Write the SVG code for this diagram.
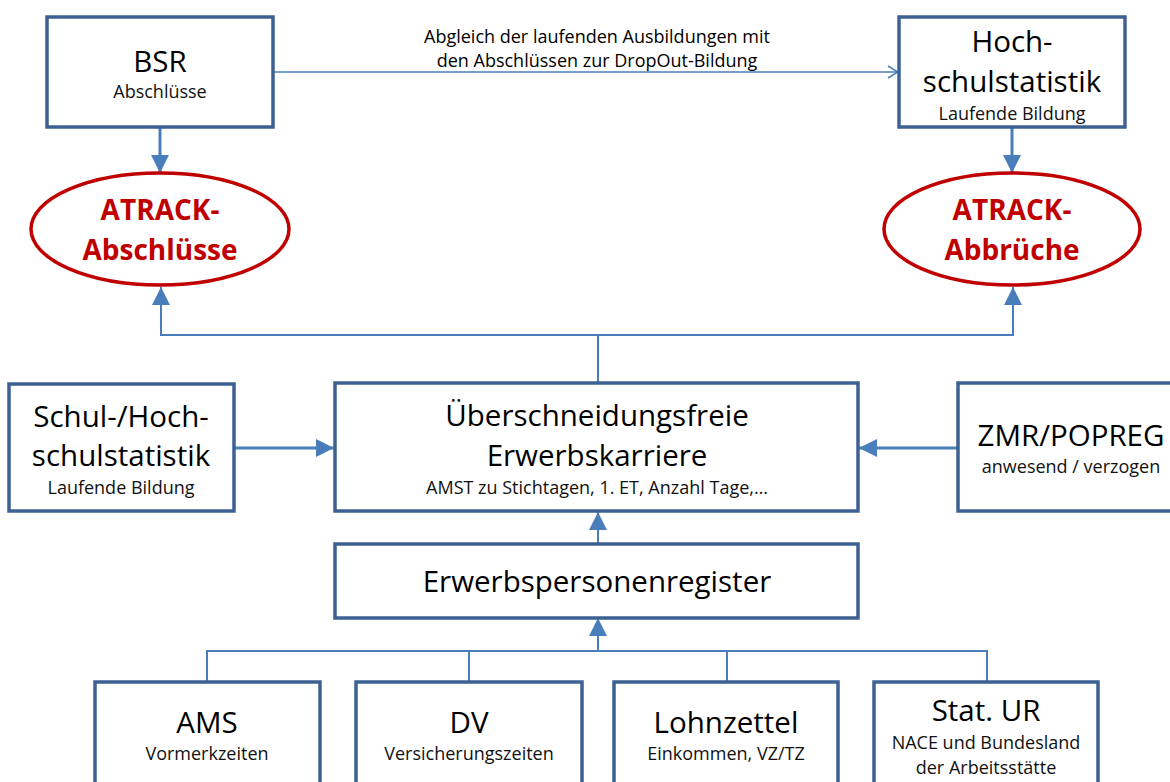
<svg xmlns="http://www.w3.org/2000/svg" width="1170" height="782" viewBox="0 0 1170 782">
<style>
.box{fill:#fff;stroke:#3d6191;stroke-width:3.5}
.ell{fill:#fff;stroke:#c00000;stroke-width:3.5}
.big{font-family:"Open Sans","Liberation Sans",sans-serif;font-size:29.5px;fill:#000;text-anchor:middle}
.sm{font-family:"Open Sans","Liberation Sans",sans-serif;font-size:18px;fill:#111;text-anchor:middle}
.red{font-family:"Open Sans","Liberation Sans",sans-serif;font-size:28px;font-weight:bold;fill:#c00000;text-anchor:middle}
.lbl{font-family:"Open Sans","Liberation Sans",sans-serif;font-size:18px;fill:#000;text-anchor:middle}
.c{fill:none;stroke:#4a7ebb}
.thick{stroke-width:3}
.thin{stroke-width:2}
.hair{stroke-width:1.5}
</style>
<defs>
<marker id="tri" markerUnits="userSpaceOnUse" viewBox="0 0 18 18" markerWidth="18" markerHeight="18" refX="18" refY="9" orient="auto">
<path d="M0,0 L18,9 L0,18 Z" fill="#4a7ebb"/>
</marker>
<marker id="open" markerUnits="userSpaceOnUse" viewBox="0 0 12 14" markerWidth="12" markerHeight="14" refX="11" refY="7" orient="auto">
<path d="M1,1 L11,7 L1,13" fill="none" stroke="#4a7ebb" stroke-width="1.5"/>
</marker>
</defs>
<g id="connectors">
<line class="c hair" x1="273" y1="72" x2="898" y2="72" marker-end="url(#open)"/>
<line class="c thick" x1="160" y1="127" x2="160" y2="173" marker-end="url(#tri)"/>
<line class="c thick" x1="1012" y1="127" x2="1012" y2="173" marker-end="url(#tri)"/>
<path class="c thin" d="M598,383 V335 H161 V287" marker-end="url(#tri)"/>
<path class="c thin" d="M598,335 H1013 V287" marker-end="url(#tri)"/>
<line class="c thick" x1="234" y1="448" x2="334" y2="448" marker-end="url(#tri)"/>
<line class="c thick" x1="958" y1="448" x2="859" y2="448" marker-end="url(#tri)"/>
<line class="c thin" x1="598" y1="544" x2="598" y2="512" marker-end="url(#tri)"/>
<line class="c thin" x1="598" y1="651" x2="598" y2="618" marker-end="url(#tri)"/>
<path class="c thin" d="M207,682 V651 H987 V682 M469,682 V651 M727,682 V651"/>
<text class="lbl" x="597" y="43">Abgleich der laufenden Ausbildungen mit</text>
<text class="lbl" x="597" y="67">den Abschlüssen zur DropOut-Bildung</text>
</g>
<g id="bsr">
<rect class="box" x="47" y="17" width="226" height="110"/>
<text class="big" x="160" y="72">BSR</text>
<text class="sm" x="160" y="98">Abschlüsse</text>
</g>
<g id="hochschul-top">
<rect class="box" x="899" y="17" width="226" height="110"/>
<text class="big" x="1012" y="52">Hoch-</text>
<text class="big" x="1012" y="92">schulstatistik</text>
<text class="sm" x="1012" y="120">Laufende Bildung</text>
</g>
<g id="atrack-abschluesse">
<ellipse class="ell" cx="160" cy="229" rx="129" ry="56"/>
<text class="red" x="160" y="220">ATRACK-</text>
<text class="red" x="160" y="260">Abschlüsse</text>
</g>
<g id="atrack-abbrueche">
<ellipse class="ell" cx="1012" cy="229" rx="128" ry="56"/>
<text class="red" x="1012" y="220">ATRACK-</text>
<text class="red" x="1012" y="260">Abbrüche</text>
</g>
<g id="schul-hochschul">
<rect class="box" x="9" y="384" width="225" height="127"/>
<text class="big" x="121" y="427">Schul-/Hoch-</text>
<text class="big" x="121" y="466">schulstatistik</text>
<text class="sm" x="121" y="494">Laufende Bildung</text>
</g>
<g id="erwerbskarriere">
<rect class="box" x="335" y="383" width="523" height="128"/>
<text class="big" x="597" y="426">Überschneidungsfreie</text>
<text class="big" x="597" y="466">Erwerbskarriere</text>
<text class="sm" x="597" y="494">AMST zu Stichtagen, 1. ET, Anzahl Tage,…</text>
</g>
<g id="zmr">
<rect class="box" x="958" y="383" width="226" height="128"/>
<text class="big" x="1071" y="446">ZMR/POPREG</text>
<text class="sm" x="1071" y="473">anwesend / verzogen</text>
</g>
<g id="erwerbspersonenregister">
<rect class="box" x="335" y="544" width="523" height="74"/>
<text class="big" x="597" y="592">Erwerbspersonenregister</text>
</g>
<g id="ams">
<rect class="box" x="95" y="682" width="225" height="130"/>
<text class="big" x="207" y="733">AMS</text>
<text class="sm" x="207" y="760">Vormerkzeiten</text>
</g>
<g id="dv">
<rect class="box" x="356" y="682" width="226" height="130"/>
<text class="big" x="469" y="733">DV</text>
<text class="sm" x="469" y="760">Versicherungszeiten</text>
</g>
<g id="lohnzettel">
<rect class="box" x="614" y="682" width="224" height="130"/>
<text class="big" x="726" y="733">Lohnzettel</text>
<text class="sm" x="726" y="760">Einkommen, VZ/TZ</text>
</g>
<g id="stat-ur">
<rect class="box" x="874" y="682" width="224" height="130"/>
<text class="big" x="986" y="721">Stat. UR</text>
<text class="sm" x="986" y="749">NACE und Bundesland</text>
<text class="sm" x="986" y="774">der Arbeitsstätte</text>
</g>
</svg>
